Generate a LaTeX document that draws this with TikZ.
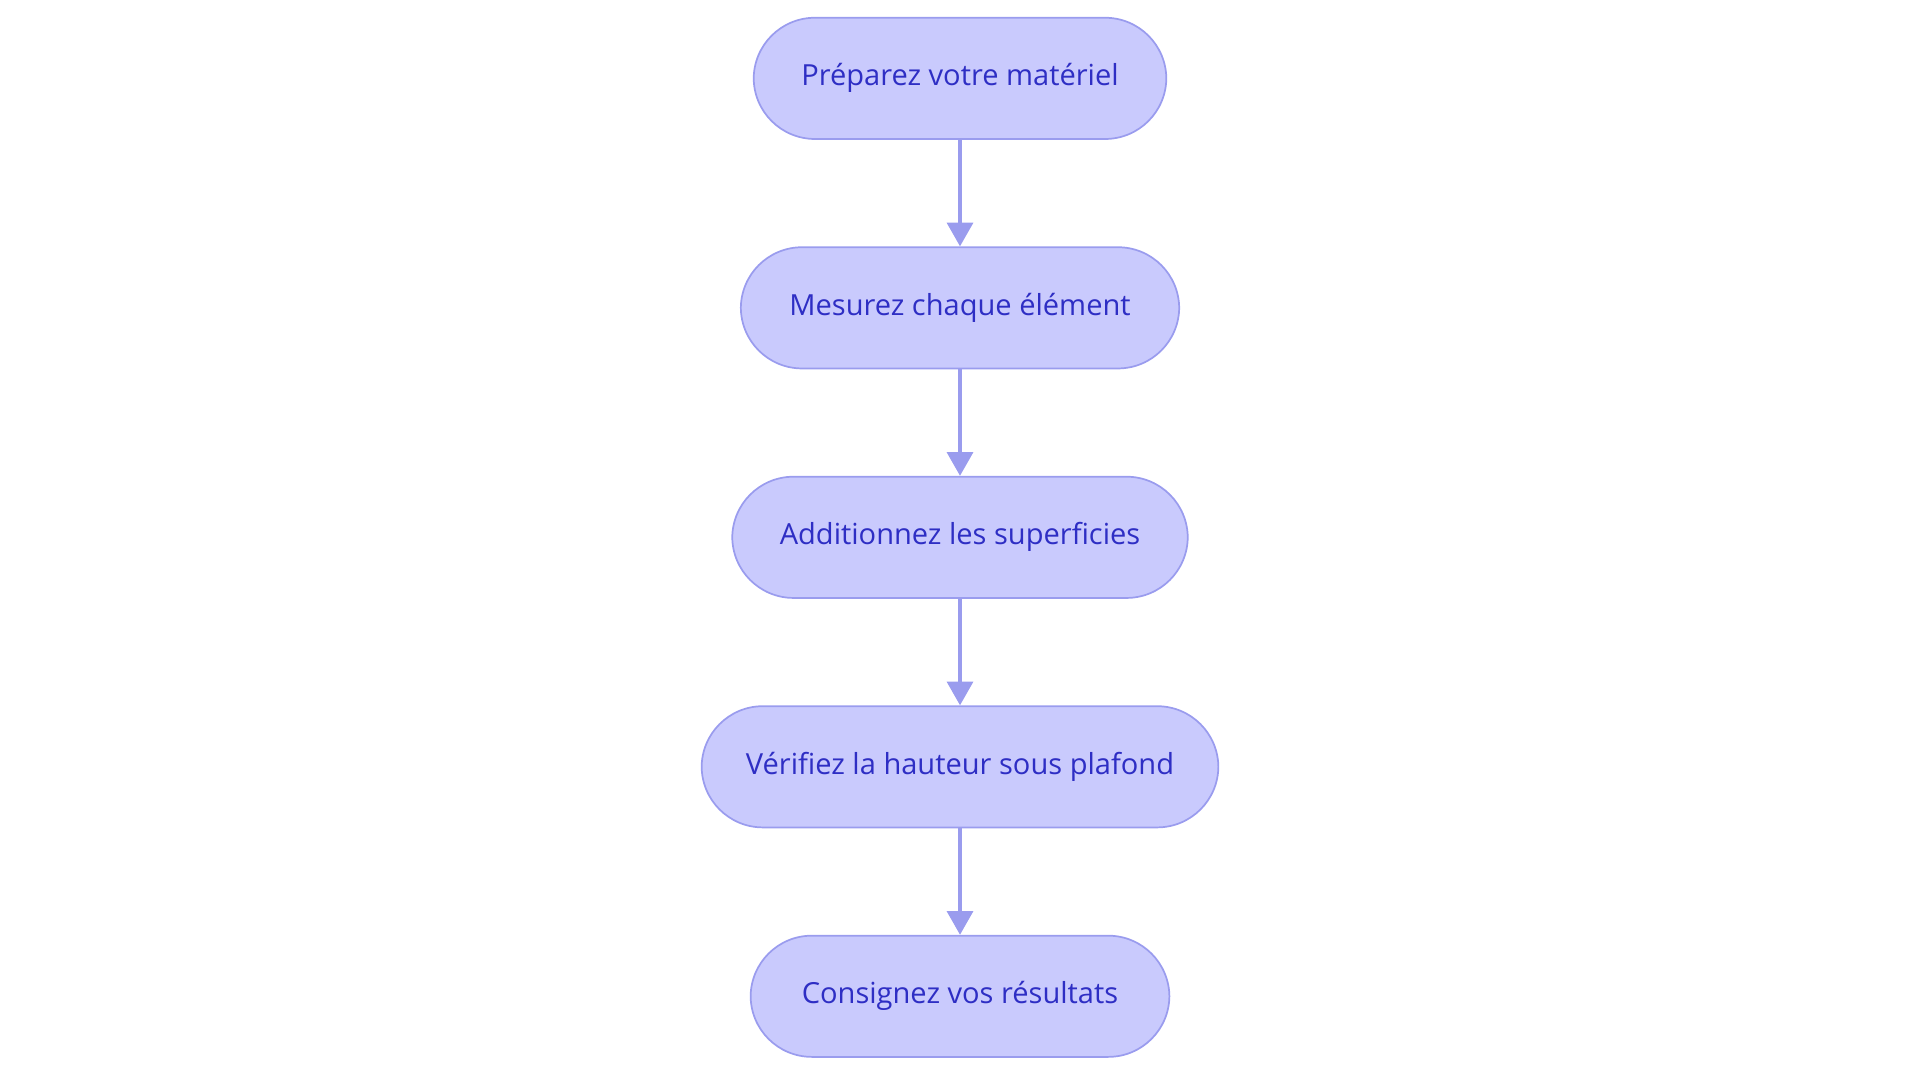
\documentclass[tikz,border=0pt]{standalone}
\usepackage{fontspec}
\setmainfont{Open Sans}
\usetikzlibrary{arrows.meta,positioning}
\definecolor{stepfill}{HTML}{C9CAFD}
\definecolor{stepline}{HTML}{9A9CEE}
\definecolor{steptext}{HTML}{2E2EC4}
\tikzset{stepbox/.style={draw=stepline, fill=stepfill, text=steptext, line width=0.8pt,
  rounded corners=1cm, minimum height=1.98cm, font=\fontsize{13.5}{16}\selectfont}}
\tikzset{arrow/.style={draw=stepline, line width=1.7pt, -{Triangle[width=12pt,length=11pt]}}}

\begin{document}
\begin{tikzpicture}[node distance=1.74cm]
\useasboundingbox (0,0) rectangle (31.36,-17.68);
\node [stepbox, minimum width=6.74cm] (s1) at (15.68,-1.28) {Préparez votre matériel};
\node [stepbox, minimum width=7.16cm, below=of s1] (s2) {Mesurez chaque élément};
\node [stepbox, minimum width=7.44cm, below=of s2] (s3) {Additionnez les superficies};
\node [stepbox, minimum width=8.44cm, below=of s3] (s4) {Vérifiez la hauteur sous plafond};
\node [stepbox, minimum width=6.84cm, below=of s4] (s5) {Consignez vos résultats};

\draw [arrow] (s1) -- (s2);
\draw [arrow] (s2) -- (s3);
\draw [arrow] (s3) -- (s4);
\draw [arrow] (s4) -- (s5);
\end{tikzpicture}
\end{document}
